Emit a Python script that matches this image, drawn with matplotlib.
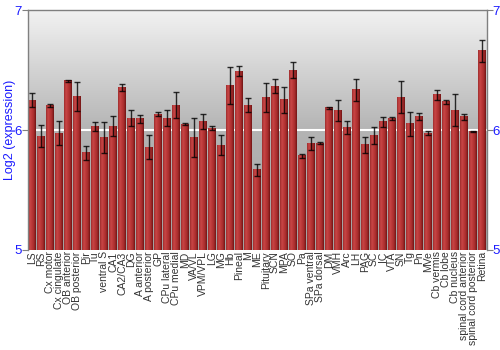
import numpy as np
import matplotlib.pyplot as plt
from matplotlib.colors import LinearSegmentedColormap

# Régions et valeurs (log2 expression)
regions = ['LS', 'RS', 'Cx motor', 'Cx cingulate', 'OB anterior', 'OB posterior',
           'Pir', 'Tu', 'ventral S', 'CA1', 'CA2/CA3', 'DG', 'A anterior',
           'A posterior', 'GP', 'CPu lateral', 'CPu medial', 'MD', 'VA/VL',
           'VPM/VPL', 'LG', 'MG', 'Hb', 'Pineal', 'M', 'ME', 'Pituitary', 'SCN',
           'MPA', 'SO', 'Pa', 'SPa ventral', 'SPa dorsal', 'DM', 'VMH', 'Arc',
           'LH', 'PAG', 'SC', 'IC', 'VTA', 'SN', 'Tg', 'Pn', 'MVe', 'Cb vermis',
           'Cb lobe', 'Cb nucleus', 'spinal cord anterior',
           'spinal cord posterior', 'Retina']

values = [6.25, 5.95, 6.205, 5.975, 6.41, 6.277, 5.81, 6.03, 5.94, 6.033,
          6.355, 6.10, 6.094, 5.856, 6.133, 6.10, 6.208, 6.047, 5.939, 6.072,
          6.017, 5.875, 6.374, 6.493, 6.208, 5.67, 6.274, 6.368, 6.252, 6.501,
          5.787, 5.886, 5.889, 6.186, 6.166, 6.022, 6.335, 5.878, 5.953, 6.069,
          6.097, 6.274, 6.053, 6.111, 5.975, 6.294, 6.235, 6.166, 6.111, 5.989,
          6.662]

errors = [0.06, 0.09, 0.015, 0.10, 0.01, 0.12, 0.06, 0.035, 0.13, 0.08,
          0.028, 0.064, 0.033, 0.10, 0.014, 0.064, 0.108, 0.008, 0.163, 0.064,
          0.02, 0.087, 0.154, 0.042, 0.055, 0.05, 0.12, 0.055, 0.108, 0.07,
          0.017, 0.054, 0.008, 0.01, 0.087, 0.053, 0.09, 0.066, 0.07, 0.042,
          0.011, 0.133, 0.10, 0.028, 0.018, 0.044, 0.014, 0.133, 0.025, 0.003,
          0.091]

ymin, ymax = 5, 7
blue = '#1a1aff'

fig = plt.figure(figsize=(5, 3.5), dpi=100)
ax = fig.add_axes([0.055, 0.286, 0.918, 0.685])

x = np.arange(len(regions))
xlim = (-0.5, len(regions) - 0.5)

# Fond en dégradé gris (clair en haut)
bg = LinearSegmentedColormap.from_list('bg', ['#a2a2a2', '#b4b4b4', '#f2f2f2'])
grad = np.linspace(0, 1, 256).reshape(-1, 1)
ax.imshow(grad, cmap=bg, origin='lower', aspect='auto',
          extent=(xlim[0], xlim[1], ymin, ymax), zorder=0)

# Ligne blanche à 6
ax.axhline(6, color='white', lw=1.5, zorder=1)

# Barres avec dégradé horizontal rouge
barmap = LinearSegmentedColormap.from_list(
    'bar', ['#9e2c2c', '#c84646', '#ba3838', '#a62c2c', '#701414'])
hgrad = np.linspace(0, 1, 64).reshape(1, -1)
w = 0.88
for xi, v in zip(x, values):
    ax.imshow(hgrad, cmap=barmap, aspect='auto',
              extent=(xi - w / 2, xi + w / 2, ymin, v), zorder=2)

ax.errorbar(x, values, yerr=errors, fmt='none', ecolor='black', elinewidth=1,
            capsize=2, capthick=1, alpha=0.8, zorder=3)

ax.set_xlim(*xlim)
ax.set_ylim(ymin, ymax)

ax.set_xticks(x)
ax.set_xticklabels(regions, rotation=90, fontsize=7.5, color='#333333',
                   family='Liberation Sans')
ax.tick_params(axis='x', length=0, pad=1)

ax.set_yticks([5, 6, 7])
ax.tick_params(axis='y', which='both', direction='out', length=4, color='#808080',
               labelcolor=blue, labelsize=9.5, left=True, right=True,
               labelleft=True, labelright=True, pad=0)
for lab in ax.get_yticklabels():
    lab.set_family('Liberation Sans')

ax.set_ylabel('Log2 (expression)', color=blue, fontsize=9,
              family='Liberation Sans')
ax.yaxis.set_label_coords(-0.026, 0.5)

for side in ['top', 'left', 'right']:
    ax.spines[side].set_color('#808080')
    ax.spines[side].set_linewidth(1)
ax.spines['bottom'].set_visible(False)

fig.savefig('out.png', dpi=100)
